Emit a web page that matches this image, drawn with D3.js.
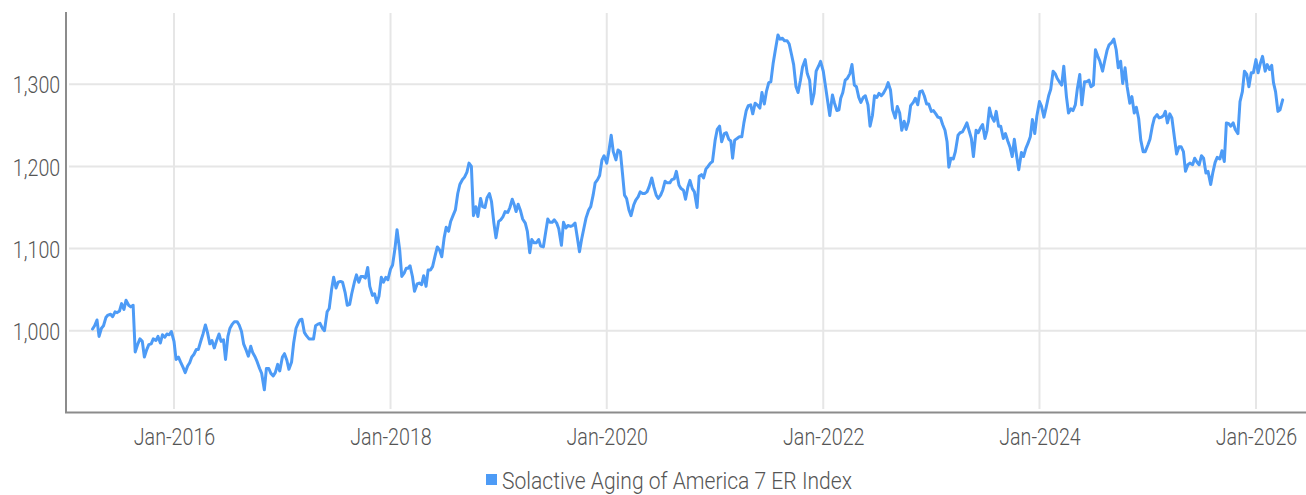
<!DOCTYPE html>
<html><head><meta charset="utf-8">
<script src="https://cdn.jsdelivr.net/npm/d3@7"></script>
<style>
html,body{margin:0;padding:0;background:#fff;}
svg{display:block;}
text{font-family:Roboto,"Noto Sans",sans-serif;font-weight:300;fill:#555;}
</style></head><body>
<svg id="chart" width="1306" height="495"></svg>
<script>
const seriesName = "Solactive Aging of America 7 ER Index";
const dates = [
"2015-04-01","2015-04-08","2015-04-16","2015-04-23","2015-05-01","2015-05-08","2015-05-16","2015-05-23",
"2015-06-01","2015-06-08","2015-06-16","2015-06-23","2015-07-01","2015-07-08","2015-07-16","2015-07-23",
"2015-08-01","2015-08-08","2015-08-16","2015-08-23","2015-09-01","2015-09-08","2015-09-16","2015-09-23",
"2015-10-01","2015-10-08","2015-10-16","2015-10-23","2015-11-01","2015-11-08","2015-11-16","2015-11-23",
"2015-12-01","2015-12-08","2015-12-16","2015-12-23",
"2016-01-01","2016-01-08","2016-01-16","2016-01-23","2016-02-01","2016-02-08","2016-02-16","2016-02-23",
"2016-03-01","2016-03-08","2016-03-16","2016-03-23","2016-04-01","2016-04-08","2016-04-16","2016-04-23",
"2016-05-01","2016-05-08","2016-05-16","2016-05-23","2016-06-01","2016-06-08","2016-06-16","2016-06-23",
"2016-07-01","2016-07-08","2016-07-16","2016-07-23","2016-08-01","2016-08-08","2016-08-16","2016-08-23",
"2016-09-01","2016-09-08","2016-09-16","2016-09-23","2016-10-01","2016-10-08","2016-10-16","2016-10-23",
"2016-11-01","2016-11-08","2016-11-16","2016-11-23","2016-12-01","2016-12-08","2016-12-16","2016-12-23",
"2017-01-01","2017-01-08","2017-01-16","2017-01-23","2017-02-01","2017-02-08","2017-02-16","2017-02-23",
"2017-03-01","2017-03-08","2017-03-16","2017-03-23","2017-04-01","2017-04-08","2017-04-16","2017-04-23",
"2017-05-01","2017-05-08","2017-05-16","2017-05-23","2017-06-01","2017-06-08","2017-06-16","2017-06-23",
"2017-07-01","2017-07-08","2017-07-16","2017-07-23","2017-08-01","2017-08-08","2017-08-16","2017-08-23",
"2017-09-01","2017-09-08","2017-09-16","2017-09-23","2017-10-01","2017-10-08","2017-10-16","2017-10-23",
"2017-11-01","2017-11-08","2017-11-16","2017-11-23","2017-12-01","2017-12-08","2017-12-16","2017-12-23",
"2018-01-01","2018-01-08","2018-01-16","2018-01-23","2018-02-01","2018-02-08","2018-02-16","2018-02-23",
"2018-03-01","2018-03-08","2018-03-16","2018-03-23","2018-04-01","2018-04-08","2018-04-16","2018-04-23",
"2018-05-01","2018-05-08","2018-05-16","2018-05-23","2018-06-01","2018-06-08","2018-06-16","2018-06-23",
"2018-07-01","2018-07-08","2018-07-16","2018-07-23","2018-08-01","2018-08-08","2018-08-16","2018-08-23",
"2018-09-01","2018-09-08","2018-09-16","2018-09-23","2018-10-01","2018-10-08","2018-10-16","2018-10-23",
"2018-11-01","2018-11-08","2018-11-16","2018-11-23","2018-12-01","2018-12-08","2018-12-16","2018-12-23",
"2019-01-01","2019-01-08","2019-01-16","2019-01-23","2019-02-01","2019-02-08","2019-02-16","2019-02-23",
"2019-03-01","2019-03-08","2019-03-16","2019-03-23","2019-04-01","2019-04-08","2019-04-16","2019-04-23",
"2019-05-01","2019-05-08","2019-05-16","2019-05-23","2019-06-01","2019-06-08","2019-06-16","2019-06-23",
"2019-07-01","2019-07-08","2019-07-16","2019-07-23","2019-08-01","2019-08-08","2019-08-16","2019-08-23",
"2019-09-01","2019-09-08","2019-09-16","2019-09-23","2019-10-01","2019-10-08","2019-10-16","2019-10-23",
"2019-11-01","2019-11-08","2019-11-16","2019-11-23","2019-12-01","2019-12-08","2019-12-16","2019-12-23",
"2020-01-01","2020-01-08","2020-01-16","2020-01-23","2020-02-01","2020-02-08","2020-02-16","2020-02-23",
"2020-03-01","2020-03-08","2020-03-16","2020-03-23","2020-04-01","2020-04-08","2020-04-16","2020-04-23",
"2020-05-01","2020-05-08","2020-05-16","2020-05-23","2020-06-01","2020-06-08","2020-06-16","2020-06-23",
"2020-07-01","2020-07-08","2020-07-16","2020-07-23","2020-08-01","2020-08-08","2020-08-16","2020-08-23",
"2020-09-01","2020-09-08","2020-09-16","2020-09-23","2020-10-01","2020-10-08","2020-10-16","2020-10-23",
"2020-11-01","2020-11-08","2020-11-16","2020-11-23","2020-12-01","2020-12-08","2020-12-16","2020-12-23",
"2021-01-01","2021-01-08","2021-01-16","2021-01-23","2021-02-01","2021-02-08","2021-02-16","2021-02-23",
"2021-03-01","2021-03-08","2021-03-16","2021-03-23","2021-04-01","2021-04-08","2021-04-16","2021-04-23",
"2021-05-01","2021-05-08","2021-05-16","2021-05-23","2021-06-01","2021-06-08","2021-06-16","2021-06-23",
"2021-07-01","2021-07-08","2021-07-16","2021-07-23","2021-08-01","2021-08-08","2021-08-16","2021-08-23",
"2021-09-01","2021-09-08","2021-09-16","2021-09-23","2021-10-01","2021-10-08","2021-10-16","2021-10-23",
"2021-11-01","2021-11-08","2021-11-16","2021-11-23","2021-12-01","2021-12-08","2021-12-16","2021-12-23",
"2022-01-01","2022-01-08","2022-01-16","2022-01-23","2022-02-01","2022-02-08","2022-02-16","2022-02-23",
"2022-03-01","2022-03-08","2022-03-16","2022-03-23","2022-04-01","2022-04-08","2022-04-16","2022-04-23",
"2022-05-01","2022-05-08","2022-05-16","2022-05-23","2022-06-01","2022-06-08","2022-06-16","2022-06-23",
"2022-07-01","2022-07-08","2022-07-16","2022-07-23","2022-08-01","2022-08-08","2022-08-16","2022-08-23",
"2022-09-01","2022-09-08","2022-09-16","2022-09-23","2022-10-01","2022-10-08","2022-10-16","2022-10-23",
"2022-11-01","2022-11-08","2022-11-16","2022-11-23","2022-12-01","2022-12-08","2022-12-16","2022-12-23",
"2023-01-01","2023-01-08","2023-01-16","2023-01-23","2023-02-01","2023-02-08","2023-02-16","2023-02-23",
"2023-03-01","2023-03-08","2023-03-16","2023-03-23","2023-04-01","2023-04-08","2023-04-16","2023-04-23",
"2023-05-01","2023-05-08","2023-05-16","2023-05-23","2023-06-01","2023-06-08","2023-06-16","2023-06-23",
"2023-07-01","2023-07-08","2023-07-16","2023-07-23","2023-08-01","2023-08-08","2023-08-16","2023-08-23",
"2023-09-01","2023-09-08","2023-09-16","2023-09-23","2023-10-01","2023-10-08","2023-10-16","2023-10-23",
"2023-11-01","2023-11-08","2023-11-16","2023-11-23","2023-12-01","2023-12-08","2023-12-16","2023-12-23",
"2024-01-01","2024-01-08","2024-01-16","2024-01-23","2024-02-01","2024-02-08","2024-02-16","2024-02-23",
"2024-03-01","2024-03-08","2024-03-16","2024-03-23","2024-04-01","2024-04-08","2024-04-16","2024-04-23",
"2024-05-01","2024-05-08","2024-05-16","2024-05-23","2024-06-01","2024-06-08","2024-06-16","2024-06-23",
"2024-07-01","2024-07-08","2024-07-16","2024-07-23","2024-08-01","2024-08-08","2024-08-16","2024-08-23",
"2024-09-01","2024-09-08","2024-09-16","2024-09-23","2024-10-01","2024-10-08","2024-10-16","2024-10-23",
"2024-11-01","2024-11-08","2024-11-16","2024-11-23","2024-12-01","2024-12-08","2024-12-16","2024-12-23",
"2025-01-01","2025-01-08","2025-01-16","2025-01-23","2025-02-01","2025-02-08","2025-02-16","2025-02-23",
"2025-03-01","2025-03-08","2025-03-16","2025-03-23","2025-04-01","2025-04-08","2025-04-16","2025-04-23",
"2025-05-01","2025-05-08","2025-05-16","2025-05-23","2025-06-01","2025-06-08","2025-06-16","2025-06-23",
"2025-07-01","2025-07-08","2025-07-16","2025-07-23","2025-08-01","2025-08-08","2025-08-16","2025-08-23",
"2025-09-01","2025-09-08","2025-09-16","2025-09-23","2025-10-01","2025-10-08","2025-10-16","2025-10-23",
"2025-11-01","2025-11-08","2025-11-16","2025-11-23","2025-12-01","2025-12-08","2025-12-16","2025-12-23",
"2026-01-01","2026-01-08","2026-01-16","2026-01-23","2026-02-01","2026-02-08","2026-02-16","2026-02-23",
"2026-03-01","2026-03-08","2026-03-16","2026-03-23","2026-04-01"
];
const values = [
1002,1006,1013,993, 1003,1006,1016,1019, 1020,1017,1023,1022, 1024,1033,1026,1037,
1031,1029,1031,974, 984,990,987,968, 977,983,984,990, 988,993,985,995, 992,996,995,999,
987,965,968,962, 955,949,957,961, 968,971,977,977, 988,996,1007,998,
984,988,979,987, 996,987,989,965, 993,1003,1008,1011, 1011,1007,999,984,
976,969,981,973, 968,962,954,948, 928,954,954,948, 945,949,959,951,
968,972,964,953, 962,985,1003,1009, 1013,1014,998,994, 990,990,990,1006,
1008,1009,1003,1000, 1023,1027,1050,1065, 1052,1059,1060,1059, 1046,1031,1032,1045,
1059,1068,1059,1066, 1066,1064,1077,1054, 1043,1045,1034,1042, 1065,1059,1065,1062,
1075,1080,1100,1123, 1098,1066,1070,1076, 1076,1079,1066,1048, 1057,1058,1056,1067,
1054,1074,1074,1078, 1092,1102,1098,1090, 1113,1126,1121,1133, 1141,1147,1167,1178,
1184,1187,1193,1204, 1200,1140,1151,1139, 1161,1151,1150,1162, 1167,1157,1131,1113,
1133,1135,1139,1145, 1144,1150,1160,1153, 1145,1154,1146,1136, 1131,1121,1095,1111,
1107,1107,1111,1103, 1102,1118,1136,1132, 1132,1135,1131,1124, 1104,1132,1125,1128,
1127,1128,1131,1115, 1096,1111,1125,1137, 1147,1151,1165,1180, 1184,1189,1208,1213,
1204,1218,1238,1218, 1208,1220,1218,1192, 1165,1161,1147,1140, 1153,1159,1163,1169,
1167,1167,1169,1175, 1186,1175,1165,1161, 1165,1171,1182,1180, 1180,1184,1185,1194,
1177,1173,1171,1160, 1175,1183,1173,1169, 1150,1188,1190,1186, 1197,1200,1204,1206,
1232,1245,1249,1230, 1240,1241,1233,1231, 1210,1232,1234,1236, 1236,1253,1268,1274,
1275,1264,1277,1275, 1271,1290,1276,1291, 1302,1303,1326,1341, 1360,1355,1356,1353,
1353,1349,1336,1324, 1297,1290,1305,1321, 1330,1313,1305,1276, 1289,1316,1322,1328,
1316,1299,1279,1262, 1287,1277,1268,1269, 1283,1290,1305,1307, 1313,1324,1299,1297,
1284,1278,1284,1286, 1275,1249,1262,1286, 1284,1289,1286,1289, 1295,1302,1293,1269,
1259,1273,1265,1244, 1255,1245,1255,1274, 1278,1283,1275,1291, 1292,1286,1276,1276,
1267,1268,1264,1260, 1259,1251,1244,1230, 1199,1210,1209,1218, 1238,1241,1242,1247,
1253,1244,1234,1212, 1244,1241,1247,1251, 1234,1244,1271,1261, 1255,1267,1249,1249,
1234,1240,1231,1224, 1212,1233,1212,1196, 1217,1212,1222,1228, 1236,1257,1240,1261,
1279,1273,1260,1271, 1286,1294,1316,1313, 1307,1303,1299,1322, 1285,1265,1270,1268,
1275,1295,1312,1275, 1303,1303,1305,1297, 1299,1342,1334,1328, 1316,1328,1341,1348,
1351,1355,1342,1320, 1328,1301,1320,1297, 1277,1285,1265,1272, 1258,1232,1218,1218,
1226,1233,1249,1259, 1263,1259,1260,1262, 1267,1253,1264,1259, 1234,1215,1224,1224,
1218,1194,1202,1204, 1202,1210,1205,1202, 1213,1210,1192,1194, 1178,1192,1205,1211,
1209,1219,1206,1253, 1252,1249,1253,1245, 1240,1279,1291,1316, 1312,1297,1314,1314,
1330,1314,1326,1334, 1316,1324,1318,1323, 1302,1291,1267,1269, 1281
];
const yTicks = [1000, 1100, 1200, 1300];
const xTickDates = ["2016-01-01","2018-01-01","2020-01-01","2022-01-01","2024-01-01","2026-01-01"];
const xTickLabels = ["Jan-2016","Jan-2018","Jan-2020","Jan-2022","Jan-2024","Jan-2026"];

const LINE = "#4d9bf6", GRID = "#e6e6e6", AXIS = "#8c8c8c", SQX = 0.82, SQL = 0.897;
const parse = d3.utcParse("%Y-%m-%d");
const data = dates.map((d, i) => ({date: parse(d), value: values[i]}));
const svg = d3.select("#chart");
svg.append("rect").attr("width", 1306).attr("height", 495).attr("fill", "#fff");

const x = d3.scaleUtc().domain([parse("2016-01-01"), parse("2026-01-01")]).range([174, 1256]);
const y = d3.scaleLinear().domain([901, 1388]).range([412, 12]);
const tickDates = xTickDates.map(parse);

// grid
svg.append("g").selectAll("line").data(yTicks).join("line")
  .attr("x1", 69).attr("x2", 1306).attr("y1", d => y(d)).attr("y2", d => y(d))
  .attr("stroke", GRID).attr("stroke-width", 2);
svg.append("g").selectAll("line").data(tickDates).join("line")
  .attr("x1", d => x(d)).attr("x2", d => x(d)).attr("y1", 13).attr("y2", 409)
  .attr("stroke", GRID).attr("stroke-width", 2);

// axes
const yAxis = svg.append("g").attr("transform", "translate(66,0)")
  .call(d3.axisLeft(y).tickValues(yTicks).tickSize(0).tickPadding(7).tickFormat(d3.format(",")));
yAxis.select(".domain").remove();
yAxis.selectAll("text").attr("font-size", 24).attr("font-family", null).attr("fill", "#555")
  .attr("dy", "0.36em").attr("transform", `scale(${SQX},1)`);

const xAxis = svg.append("g").attr("transform", "translate(0,412)")
  .call(d3.axisBottom(x).tickValues(tickDates).tickSize(0).tickPadding(16)
    .tickFormat((d, i) => xTickLabels[i]));
xAxis.select(".domain").remove();
xAxis.selectAll(".tick text").attr("font-size", 24).attr("font-family", null).attr("fill", "#555")
  .attr("transform", `scale(${SQX},1)`);

svg.append("line").attr("x1", 66).attr("x2", 66).attr("y1", 12).attr("y2", 413)
  .attr("stroke", AXIS).attr("stroke-width", 2);
svg.append("line").attr("x1", 65).attr("x2", 1306).attr("y1", 412.5).attr("y2", 412.5)
  .attr("stroke", AXIS).attr("stroke-width", 2);

// series
svg.append("path").datum(data)
  .attr("fill", "none").attr("stroke", LINE).attr("stroke-width", 3)
  .attr("stroke-linejoin", "round").attr("stroke-linecap", "round")
  .attr("d", d3.line().x(d => x(d.date)).y(d => y(d.value)));

// legend
const lg = svg.append("g");
lg.append("rect").attr("x", 486).attr("y", 474).attr("width", 11).attr("height", 11).attr("fill", LINE);
lg.append("text").attr("transform", `translate(502,489) scale(${SQL},1)`)
  .attr("font-size", 23.5).attr("fill", "#555").text(seriesName);
</script>
</body></html>
